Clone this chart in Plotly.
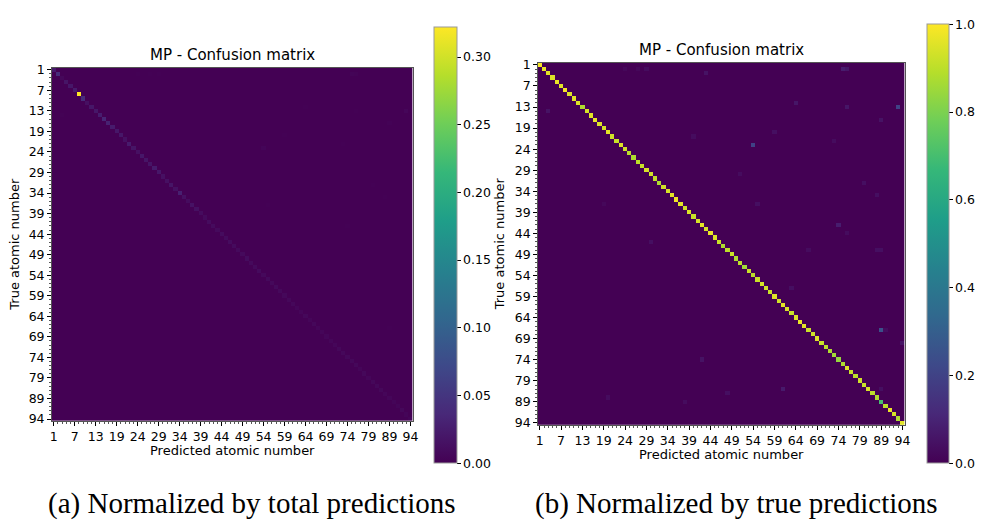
import numpy as np
import plotly.graph_objects as go

W, H = 983, 526

# Atomic numbers present in the matrix (categories, in axis order)
elements = [1, 3, 4, 5, 6, 7, 8, 9, 11, 12, 13, 14, 15, 16, 17,
            19, 20, 21, 22, 23, 24, 25, 26, 27, 28, 29, 30, 31, 32, 33, 34, 35, 36, 37, 38,
            39, 40, 41, 42, 43, 44, 45, 46, 47, 48, 49, 50, 51, 52, 53, 54, 55, 56, 57, 58,
            59, 60, 61, 62, 63, 64, 65, 66, 67, 68, 69, 70, 71, 72, 73, 74, 75, 76, 77, 78,
            79, 80, 81, 82, 83, 89, 90, 91, 92, 93, 94]

# Tick labels shown on both axes
tick_labels = [1, 7, 13, 19, 24, 29, 34, 39, 44, 49, 54, 59, 64, 69, 74, 79, 89, 94]

# (b) diagonal, normalized by true counts (recall per element)
recall_diag = [0.99, 0.97, 0.96, 0.95, 0.97, 0.96, 0.99, 0.95, 0.96, 0.95,
               0.88, 0.94, 0.96, 0.97, 0.95, 0.94, 0.96, 0.93, 0.92, 0.95,
               0.93, 0.90, 0.88, 0.90, 0.92, 0.94, 0.93, 0.91, 0.88, 0.93,
               0.94, 0.96, 0.98, 0.96, 0.93, 0.95, 0.92, 0.94, 0.96, 0.94,
               0.97, 0.95, 0.92, 0.88, 0.90, 0.92, 0.88, 0.90, 0.86, 0.92,
               0.90, 0.92, 0.94, 0.93, 0.92, 0.95, 0.93, 0.96, 0.94, 0.92,
               0.95, 0.97, 0.96, 0.92, 0.93, 0.95, 0.92, 0.90, 0.88, 0.86,
               0.84, 0.88, 0.95, 0.92, 0.90, 0.93, 0.92, 0.94, 0.90, 0.88,
               0.70, 0.90, 0.97, 0.94, 0.88, 0.96]

# (a) diagonal, normalized by total predictions
total_diag = [0.022, 0.040, 0.006, 0.018, 0.020, 0.024, 0.322, 0.040, 0.014, 0.020,
              0.020, 0.026, 0.034, 0.030, 0.024, 0.020, 0.020, 0.014, 0.024, 0.018,
              0.014, 0.020, 0.018, 0.018, 0.024, 0.020, 0.014, 0.014, 0.018, 0.014,
              0.028, 0.014, 0.010, 0.016, 0.014, 0.010, 0.008, 0.010, 0.009, 0.008,
              0.010, 0.009, 0.010, 0.009, 0.008, 0.008, 0.010, 0.008, 0.008, 0.009,
              0.007, 0.008, 0.007, 0.008, 0.007, 0.006, 0.006, 0.006, 0.005, 0.005,
              0.006, 0.005, 0.006, 0.005, 0.005, 0.005, 0.005, 0.005, 0.006, 0.006,
              0.006, 0.006, 0.006, 0.005, 0.006, 0.005, 0.006, 0.006, 0.006, 0.005,
              0.005, 0.004, 0.004, 0.006, 0.004, 0.004]

# Off-diagonal confusions (true element, predicted element, recall-normalized value)
off_true = [13, 23, 3, 3, 12, 13, 42, 81, 14, 4, 70, 16, 35, 20, 32, 57, 74, 82, 46, 37,
            44, 81, 3, 48, 48, 48, 21, 22, 83, 89, 37, 30, 67, 67, 3, 3]
off_pred = [93, 54, 75, 76, 64, 76, 74, 61, 4, 43, 94, 89, 83, 59, 80, 63, 42, 48, 30, 55,
            76, 89, 29, 83, 89, 67, 40, 73, 20, 38, 19, 51, 89, 90, 24, 27]
off_vals = [0.20, 0.20, 0.08, 0.06, 0.06, 0.06, 0.08, 0.07, 0.05, 0.05, 0.05, 0.05, 0.04,
            0.04, 0.04, 0.04, 0.05, 0.04, 0.04, 0.04, 0.03, 0.04, 0.03, 0.04, 0.04, 0.03,
            0.03, 0.03, 0.03, 0.03, 0.02, 0.03, 0.25, 0.03, 0.02, 0.02]

n = len(elements)
pos = {e: i for i, e in enumerate(elements)}
recall = np.diag(np.array(recall_diag, dtype=float))
for t, p, v in zip(off_true, off_pred, off_vals):
    recall[pos[t], pos[p]] = v
share = np.array(total_diag) / np.array(recall_diag)
total = recall * share[:, None]

idx = list(range(n))
tickvals = [pos[e] for e in tick_labels]
ticktext = [str(e) for e in tick_labels]

fig = go.Figure()

def px_x(v):
    return v / W

def px_y(v):
    return 1 - v / H

panels = [
    dict(z=total, zmax=0.322, x0=50, x1=414, y0=63, y1=424,
         cb=dict(x=436, w=23, y0=22, y1=467, tv=[0, 0.05, 0.10, 0.15, 0.20, 0.25, 0.30],
                 tt=["0.00", "0.05", "0.10", "0.15", "0.20", "0.25", "0.30"]),
         caption="(a) Normalized by total predictions", capx=252),
    dict(z=recall, zmax=1.0, x0=540, x1=910, y0=58, y1=428,
         cb=dict(x=933, w=22, y0=19, y1=467, tv=[0, 0.2, 0.4, 0.6, 0.8, 1.0],
                 tt=["0.0", "0.2", "0.4", "0.6", "0.8", "1.0"]),
         caption="(b) Normalized by true predictions", capx=741),
]

tick_font = dict(family="DejaVu Sans", size=12.5, color="black")
annotations = []
for k, pnl in enumerate(panels):
    sfx = "" if k == 0 else str(k + 1)
    cb = pnl["cb"]
    fig.add_trace(go.Heatmap(
        z=pnl["z"], x=idx, y=idx, colorscale="Viridis", zmin=0, zmax=pnl["zmax"],
        xaxis="x" + sfx, yaxis="y" + sfx,
        colorbar=dict(
            x=px_x(cb["x"]), xanchor="left", xref="paper",
            y=px_y(cb["y1"]), yanchor="bottom", yref="paper",
            len=(cb["y1"] - cb["y0"]) / H, lenmode="fraction",
            thickness=cb["w"], thicknessmode="pixels",
            outlinewidth=1, outlinecolor="#999999",
            ticks="outside", ticklen=3.5, tickwidth=1, tickcolor="black",
            tickvals=cb["tv"], ticktext=cb["tt"], tickfont=tick_font, xpad=0, ypad=0,
        ),
    ))
    axis_common = dict(
        tickmode="array", tickvals=tickvals, ticktext=ticktext, tickfont=tick_font,
        ticks="outside", ticklen=3.5, tickwidth=1, tickcolor="black",
        minor=dict(tickmode="linear", tick0=0, dtick=1, ticks="outside", ticklen=2,
                   tickwidth=0.8, tickcolor="#555555"),
        showgrid=False, zeroline=False, showline=True, mirror=True,
        linecolor="#555555", linewidth=1,
    )
    fig.update_layout(**{
        "xaxis" + sfx: dict(axis_common, domain=[px_x(pnl["x0"]), px_x(pnl["x1"])],
                            range=[-0.5, n - 0.5], anchor="y" + sfx),
        "yaxis" + sfx: dict(axis_common, domain=[px_y(pnl["y1"]), px_y(pnl["y0"])],
                            range=[n - 0.5, -0.5], anchor="x" + sfx),
    })
    cx = (pnl["x0"] + pnl["x1"]) / 2
    cy = (pnl["y0"] + pnl["y1"]) / 2
    annotations += [
        dict(text="MP - Confusion matrix", x=px_x(cx), y=px_y(pnl["y0"] - 2),
             xref="paper", yref="paper", xanchor="center", yanchor="bottom",
             showarrow=False, font=dict(family="DejaVu Sans", size=15, color="black")),
        dict(text="Predicted atomic number", x=px_x(cx), y=px_y(pnl["y1"] + 20),
             xref="paper", yref="paper", xanchor="center", yanchor="top",
             showarrow=False, font=dict(family="DejaVu Sans", size=13, color="black")),
        dict(text="True atomic number", x=px_x(pnl["x0"] - 28), y=px_y(cy),
             xref="paper", yref="paper", xanchor="right", yanchor="middle", textangle=-90,
             showarrow=False, font=dict(family="DejaVu Sans", size=13, color="black")),
        dict(text=pnl["caption"], x=px_x(pnl["capx"]), y=px_y(508),
             xref="paper", yref="paper", xanchor="center", yanchor="middle",
             showarrow=False, font=dict(family="Liberation Serif", size=29, color="black")),
    ]

fig.update_layout(
    width=W, height=H, margin=dict(l=0, r=0, t=0, b=0),
    paper_bgcolor="white", plot_bgcolor="white",
    annotations=annotations, showlegend=False,
)

fig.write_html("out.html", config={"displayModeBar": False},
               post_script="document.body.style.margin='0';document.body.style.overflow='hidden';")
